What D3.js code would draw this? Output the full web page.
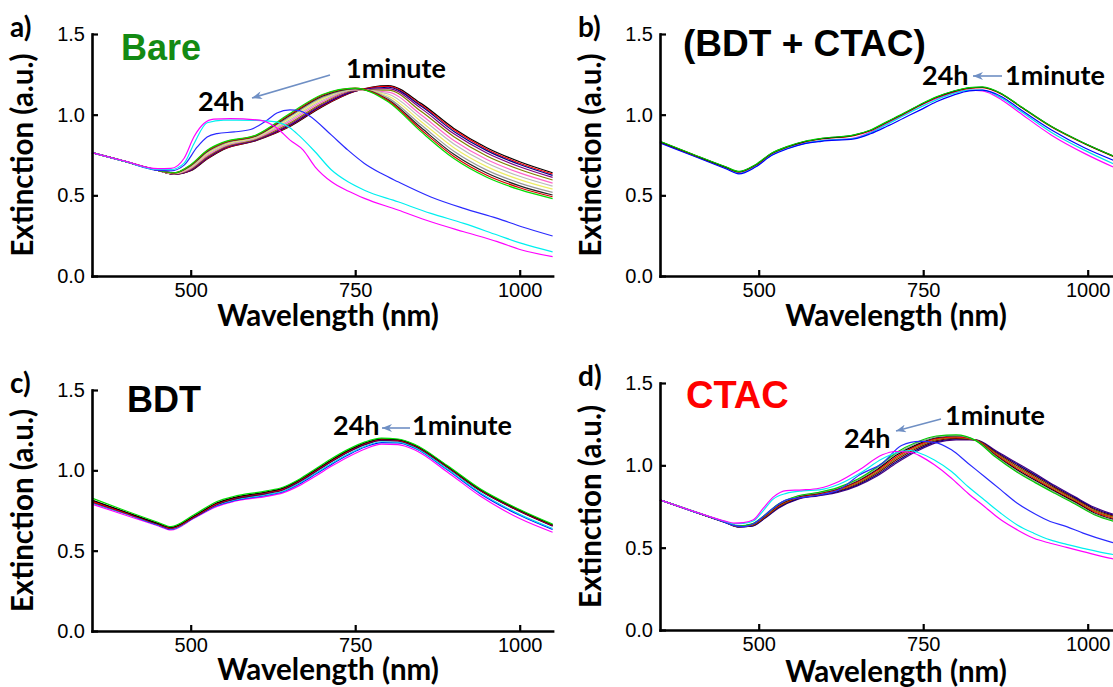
<!DOCTYPE html>
<html><head><meta charset="utf-8">
<script src="https://cdn.jsdelivr.net/npm/d3@7"></script>
<style>
html,body{margin:0;padding:0;background:#fff;}
svg{display:block;}
</style></head>
<body>
<svg id="chart" width="1113" height="687"></svg>
<script>
// ---------------- shared ticks ----------------
const xTicks = [500, 750, 1000];
const yTicks = [0, 0.5, 1.0, 1.5];
const xDomain = [350, 1050];
const yDomain = [0, 1.5];

// ---------------- panel a : Bare ----------------
const wlBare = [350,400,450,475,500,525,550,600,650,700,750,800,850,900,950,1000,1050];
const bareBundle = [
  [0.765,0.71,0.655,0.630,0.652,0.725,0.785,0.840,0.925,1.050,1.145,1.180,1.070,0.915,0.795,0.708,0.640],
  [0.765,0.71,0.655,0.631,0.654,0.728,0.787,0.842,0.929,1.054,1.146,1.175,1.061,0.906,0.786,0.699,0.632],
  [0.765,0.71,0.655,0.631,0.656,0.731,0.790,0.844,0.933,1.058,1.147,1.170,1.053,0.896,0.777,0.691,0.624],
  [0.765,0.71,0.655,0.632,0.659,0.735,0.793,0.846,0.939,1.064,1.149,1.162,1.039,0.881,0.762,0.677,0.611],
  [0.765,0.71,0.655,0.633,0.663,0.740,0.798,0.850,0.947,1.071,1.151,1.152,1.021,0.863,0.744,0.660,0.595],
  [0.765,0.71,0.655,0.634,0.667,0.747,0.803,0.854,0.957,1.080,1.153,1.140,1.000,0.840,0.722,0.639,0.576],
  [0.765,0.71,0.655,0.635,0.672,0.754,0.808,0.858,0.967,1.089,1.155,1.128,0.979,0.818,0.700,0.618,0.557],
  [0.765,0.71,0.655,0.636,0.676,0.760,0.814,0.862,0.976,1.098,1.158,1.116,0.958,0.795,0.678,0.597,0.538],
  [0.765,0.71,0.655,0.638,0.681,0.767,0.819,0.867,0.986,1.107,1.160,1.104,0.937,0.773,0.656,0.576,0.518],
  [0.765,0.71,0.655,0.639,0.685,0.772,0.824,0.870,0.994,1.115,1.162,1.094,0.920,0.754,0.638,0.559,0.502],
  [0.765,0.71,0.655,0.639,0.687,0.776,0.827,0.872,0.999,1.120,1.164,1.087,0.907,0.741,0.625,0.547,0.491],
  [0.765,0.71,0.655,0.640,0.690,0.780,0.830,0.875,1.005,1.125,1.165,1.080,0.895,0.728,0.612,0.535,0.480]
];
const bareBlueWl = [350,400,450,470,490,510,525,540,566,591,616,631,651,665,679,714,739,764,790,815,865,915,966,1003,1050];
const bareBlue   = [0.765,0.71,0.655,0.652,0.687,0.80,0.862,0.883,0.893,0.908,0.966,1.01,1.03,1.025,0.997,0.873,0.78,0.698,0.635,0.584,0.49,0.419,0.357,0.305,0.248];
const bareCyanWl = [350,400,450,470,490,505,525,550,600,630,650,664,689,714,739,764,815,865,915,966,1003,1050];
const bareCyan   = [0.765,0.71,0.66,0.66,0.70,0.82,0.95,0.966,0.965,0.955,0.92,0.873,0.77,0.657,0.584,0.532,0.46,0.388,0.326,0.254,0.202,0.15];
const bareMagentaWl = [350,400,450,470,490,505,520,535,560,605,630,651,671,689,714,740,764,815,865,915,966,1003,1050];
const bareMagenta   = [0.765,0.712,0.665,0.667,0.73,0.863,0.945,0.972,0.975,0.966,0.92,0.842,0.78,0.677,0.584,0.525,0.481,0.409,0.336,0.274,0.213,0.161,0.12];

// ---------------- panel b : BDT + CTAC ----------------
const wlMix = [350,400,450,470,495,520,545,570,595,645,670,695,720,745,770,795,820,840,870,895,945,995,1050];
const mixGreen   = [0.835,0.755,0.677,0.648,0.690,0.763,0.805,0.835,0.853,0.875,0.905,0.957,1.008,1.062,1.110,1.145,1.168,1.172,1.128,1.060,0.927,0.823,0.725];
const mixBlack   = [0.833,0.753,0.675,0.646,0.688,0.761,0.803,0.833,0.851,0.873,0.903,0.955,1.006,1.060,1.108,1.143,1.166,1.170,1.127,1.059,0.926,0.822,0.724];
const mixRed     = [0.832,0.752,0.674,0.645,0.686,0.759,0.801,0.831,0.849,0.870,0.900,0.952,1.003,1.057,1.105,1.140,1.163,1.168,1.125,1.057,0.924,0.820,0.722];
const mixBlue    = [0.825,0.745,0.665,0.633,0.675,0.748,0.790,0.820,0.835,0.850,0.882,0.928,0.978,1.028,1.080,1.120,1.148,1.152,1.110,1.040,0.905,0.795,0.700];
const mixCyan    = [0.828,0.748,0.668,0.636,0.678,0.750,0.793,0.822,0.838,0.853,0.888,0.940,0.993,1.045,1.092,1.130,1.152,1.152,1.100,1.030,0.890,0.780,0.675];
const mixMagenta = [0.830,0.750,0.670,0.637,0.680,0.752,0.795,0.822,0.838,0.855,0.892,0.945,1.000,1.055,1.100,1.135,1.152,1.148,1.090,1.017,0.873,0.760,0.655];

// ---------------- panel c : BDT ----------------
const wlBdt = [350,400,450,470,505,540,565,615,640,665,690,715,740,765,790,815,840,890,940,1000,1050];
const bdtGreen   = [0.827,0.750,0.677,0.650,0.723,0.806,0.837,0.872,0.895,0.945,1.010,1.075,1.132,1.177,1.200,1.195,1.162,1.030,0.885,0.756,0.665];
const bdtBlack   = [0.815,0.742,0.670,0.645,0.716,0.798,0.830,0.866,0.889,0.940,1.004,1.068,1.126,1.171,1.196,1.191,1.158,1.026,0.881,0.752,0.661];
const bdtRed     = [0.808,0.738,0.668,0.642,0.712,0.793,0.826,0.862,0.885,0.935,0.999,1.063,1.121,1.167,1.192,1.188,1.155,1.023,0.878,0.749,0.658];
const bdtNavy    = [0.812,0.740,0.668,0.641,0.710,0.791,0.823,0.859,0.882,0.932,0.996,1.060,1.118,1.164,1.190,1.186,1.153,1.021,0.876,0.747,0.656];
const bdtWine    = [0.805,0.736,0.666,0.640,0.709,0.789,0.821,0.857,0.880,0.930,0.994,1.058,1.116,1.162,1.188,1.185,1.152,1.020,0.875,0.746,0.655];
const bdtPurple  = [0.803,0.735,0.665,0.639,0.708,0.787,0.819,0.855,0.878,0.928,0.992,1.056,1.114,1.160,1.186,1.183,1.150,1.018,0.873,0.744,0.653];
const bdtCyan    = [0.800,0.733,0.662,0.636,0.707,0.784,0.814,0.848,0.870,0.920,0.982,1.045,1.103,1.150,1.178,1.176,1.143,1.008,0.860,0.726,0.638];
const bdtBlue    = [0.798,0.731,0.660,0.634,0.705,0.781,0.811,0.845,0.867,0.915,0.977,1.040,1.097,1.145,1.172,1.171,1.139,1.003,0.855,0.720,0.632];
const bdtMagenta = [0.790,0.722,0.655,0.629,0.702,0.776,0.806,0.838,0.860,0.905,0.965,1.028,1.085,1.133,1.163,1.160,1.128,0.990,0.840,0.700,0.615];

// ---------------- panel d : CTAC ----------------
const wlCtac = [350,400,450,470,490,510,530,560,590,620,650,680,710,740,770,800,830,860,890,920,950,980,1010,1050];
const ctacBundle = [
  [0.79,0.720,0.652,0.625,0.630,0.680,0.740,0.795,0.815,0.835,0.875,0.935,1.015,1.085,1.138,1.155,1.155,1.090,1.020,0.950,0.877,0.810,0.745,0.690],
  [0.79,0.720,0.652,0.626,0.632,0.683,0.744,0.798,0.818,0.840,0.881,0.943,1.025,1.093,1.144,1.160,1.154,1.084,1.012,0.942,0.870,0.804,0.738,0.684],
  [0.79,0.721,0.653,0.627,0.635,0.686,0.748,0.801,0.821,0.844,0.887,0.952,1.035,1.102,1.150,1.164,1.154,1.078,1.004,0.934,0.863,0.797,0.732,0.678],
  [0.79,0.721,0.653,0.628,0.637,0.689,0.751,0.804,0.824,0.849,0.893,0.960,1.044,1.110,1.156,1.169,1.153,1.072,0.995,0.925,0.856,0.791,0.725,0.672],
  [0.79,0.721,0.654,0.629,0.639,0.692,0.755,0.807,0.827,0.853,0.899,0.968,1.054,1.118,1.162,1.173,1.152,1.066,0.987,0.917,0.849,0.784,0.718,0.666],
  [0.79,0.722,0.654,0.630,0.641,0.695,0.759,0.810,0.830,0.858,0.905,0.976,1.064,1.126,1.168,1.178,1.151,1.060,0.979,0.909,0.842,0.778,0.711,0.660],
  [0.79,0.722,0.655,0.631,0.643,0.698,0.762,0.813,0.833,0.861,0.910,0.983,1.072,1.133,1.173,1.181,1.151,1.055,0.972,0.902,0.836,0.772,0.705,0.655],
  [0.79,0.722,0.655,0.632,0.645,0.700,0.765,0.815,0.835,0.865,0.915,0.990,1.080,1.140,1.178,1.185,1.150,1.050,0.965,0.895,0.830,0.767,0.700,0.650]
];
const ctacBlueWl = [350,400,450,462,477,492,522,542,567,592,622,653,688,717,745,767,793,818,843,868,893,918,943,968,993,1033,1050];
const ctacBlue   = [0.79,0.72,0.652,0.635,0.628,0.645,0.74,0.79,0.805,0.82,0.851,0.942,1.013,1.12,1.145,1.14,1.094,1.013,0.932,0.851,0.77,0.709,0.659,0.628,0.588,0.537,0.52];
const ctacCyanWl = [350,400,450,462,477,492,507,522,542,567,592,622,653,688,710,730,742,767,793,818,843,868,893,918,943,968,993,1033,1050];
const ctacCyan   = [0.79,0.722,0.658,0.645,0.648,0.662,0.725,0.795,0.83,0.845,0.851,0.885,0.95,1.04,1.078,1.09,1.078,1.033,0.963,0.871,0.79,0.709,0.638,0.588,0.547,0.52,0.496,0.462,0.452];
const ctacMagentaWl = [350,400,450,462,477,492,507,522,542,567,592,622,653,688,707,732,747,767,793,818,843,868,893,918,943,968,993,1033,1050];
const ctacMagenta   = [0.79,0.722,0.66,0.649,0.652,0.669,0.74,0.807,0.847,0.851,0.861,0.902,0.973,1.064,1.084,1.078,1.053,1.003,0.922,0.83,0.75,0.669,0.608,0.557,0.527,0.502,0.476,0.436,0.425];

// ---------------- styles (kept apart from data) ----------------
const bareBundleColors = ['#000000','#ff0000','#000080','#800080','#808000','#ff66cc','#bbbbbb','#eeee66','#999999','#222222','#dd0000','#00dd00'];
const ctacBundleColors = ['#4b0082','#000080','#800000','#808000','#ff0000','#000000','#999999','#00cc00'];
const arrowColor = '#6f8fc4';
const PXNM = 0.658;

const svg = d3.select('#chart');
svg.append('defs').append('marker')
  .attr('id','ah').attr('viewBox','0 0 10 8').attr('refX',10).attr('refY',4)
  .attr('markerWidth',11).attr('markerHeight',8).attr('markerUnits','userSpaceOnUse')
  .attr('orient','auto')
  .append('path').attr('d','M10,4 L0,0 L3,4 L0,8 Z').attr('fill',arrowColor);

const panels = [
  { x0: 92,  yB: 276, yT: 34, xTitleY: 326,
    letter: 'a)', title: 'Bare', titleColor: '#138a13', titleX: 121, titleY: 60, titleSize: 36,
    series: [
      ...bareBundle.map((v,i)=>({wl: wlBare, v, color: bareBundleColors[i]})),
      {wl: bareBlueWl, v: bareBlue, color: '#2a2aff'},
      {wl: bareCyanWl, v: bareCyan, color: '#00f0f0'},
      {wl: bareMagentaWl, v: bareMagenta, color: '#ff00ff'}
    ],
    t1: {x:346, y:78}, t24: {x:198, y:111}, arrow: [330,75,252,98] },
  { x0: 660, yB: 276, yT: 34, xTitleY: 326,
    letter: 'b)', title: '(BDT + CTAC)', titleColor: '#000', titleX: 683, titleY: 56, titleSize: 37,
    series: [
      {wl: wlMix, v: mixMagenta, color:'#ff00ff'},
      {wl: wlMix, v: mixCyan, color:'#00e5e5'},
      {wl: wlMix, v: mixBlue, color:'#0000ff'},
      {wl: wlMix, v: mixRed, color:'#ff0000'},
      {wl: wlMix, v: mixBlack, color:'#000000'},
      {wl: wlMix, v: mixGreen, color:'#00cc00'}
    ],
    t1: {x:1005, y:85}, t24: {x:922, y:85}, arrow: [1002,76,973,76] },
  { x0: 92,  yB: 631, yT: 390, xTitleY: 680,
    letter: 'c)', title: 'BDT', titleColor: '#000', titleX: 127, titleY: 412, titleSize: 36,
    series: [
      {wl: wlBdt, v: bdtMagenta, color:'#ff00ff'},
      {wl: wlBdt, v: bdtBlue, color:'#0000ff'},
      {wl: wlBdt, v: bdtCyan, color:'#00e5e5'},
      {wl: wlBdt, v: bdtPurple, color:'#800080'},
      {wl: wlBdt, v: bdtWine, color:'#800000'},
      {wl: wlBdt, v: bdtNavy, color:'#000080'},
      {wl: wlBdt, v: bdtRed, color:'#ff0000'},
      {wl: wlBdt, v: bdtBlack, color:'#000000'},
      {wl: wlBdt, v: bdtGreen, color:'#00dd00'}
    ],
    t1: {x:412, y:435}, t24: {x:333, y:435}, arrow: [410,428,382,428] },
  { x0: 660, yB: 630, yT: 383, xTitleY: 682,
    letter: 'd)', title: 'CTAC', titleColor: '#ff0000', titleX: 686, titleY: 408, titleSize: 38,
    series: [
      ...ctacBundle.map((v,i)=>({wl: wlCtac, v, color: ctacBundleColors[i]})),
      {wl: ctacBlueWl, v: ctacBlue, color:'#2a2aff'},
      {wl: ctacCyanWl, v: ctacCyan, color:'#00f0f0'},
      {wl: ctacMagentaWl, v: ctacMagenta, color:'#ff00ff'}
    ],
    t1: {x:945, y:425}, t24: {x:844, y:448}, arrow: [941,419,896,431] }
];

const boldCal = "Lato, 'Open Sans', sans-serif";
const arial = "'Liberation Sans', Arial, sans-serif";

panels.forEach(p => {
  const g = svg.append('g');
  const x = d3.scaleLinear().domain(xDomain).range([p.x0, p.x0 + (xDomain[1]-xDomain[0])*PXNM]);
  const y = d3.scaleLinear().domain(yDomain).range([p.yB, p.yT]);
  const line = d3.line().x(d=>x(d[0])).y(d=>y(d[1])).curve(d3.curveMonotoneX);

  p.series.forEach(s => {
    g.append('path').attr('d', line(d3.zip(s.wl, s.v)))
      .attr('fill','none').attr('stroke', s.color).attr('stroke-width', 1.2);
  });

  const ya = g.append('g').attr('transform', `translate(${p.x0},0)`)
    .call(d3.axisLeft(y).tickValues(yTicks).tickFormat(d3.format('.1f')).tickSize(-6).tickSizeOuter(0).tickPadding(7));
  const xa = g.append('g').attr('transform', `translate(0,${p.yB})`)
    .call(d3.axisBottom(x).tickValues(xTicks).tickFormat(d3.format('d')).tickSize(-6).tickSizeOuter(0).tickPadding(7));
  [ya, xa].forEach(a => {
    a.select('.domain').attr('stroke','#000').attr('stroke-width',2.6).attr('stroke-linecap','square');
    a.selectAll('.tick line').attr('stroke','#000').attr('stroke-width',2.2);
    a.selectAll('.tick text').attr('fill','#000').style('font-family', arial).style('font-size','20px');
  });

  // axis titles
  g.append('text').attr('transform', `translate(${p.x0-59},${(p.yB+p.yT)/2}) rotate(-90)`)
    .attr('text-anchor','middle').style('font-family', boldCal).style('font-weight',700).style('font-size','29.5px')
    .text('Extinction (a.u.)');
  g.append('text').attr('x', p.x0 + 236).attr('y', p.xTitleY)
    .attr('text-anchor','middle').style('font-family', boldCal).style('font-weight',700).style('font-size','29.5px')
    .text('Wavelength (nm)');

  // panel letter
  g.append('text').attr('x', p.x0 - 82).attr('y', p.yT + 3)
    .style('font-family', boldCal).style('font-weight',700).style('font-size','28px').text(p.letter);
  // title
  g.append('text').attr('x', p.titleX).attr('y', p.titleY).attr('fill', p.titleColor)
    .style('font-family', arial).style('font-weight',700).style('font-size', p.titleSize + 'px').text(p.title);
  // annotations
  g.append('text').attr('x', p.t1.x).attr('y', p.t1.y)
    .style('font-family', boldCal).style('font-weight',700).style('font-size','27px').text('1minute');
  g.append('text').attr('x', p.t24.x).attr('y', p.t24.y)
    .style('font-family', boldCal).style('font-weight',700).style('font-size','27px').text('24h');
  g.append('line').attr('x1',p.arrow[0]).attr('y1',p.arrow[1]).attr('x2',p.arrow[2]).attr('y2',p.arrow[3])
    .attr('stroke', arrowColor).attr('stroke-width',1.6).attr('marker-end','url(#ah)');
});
</script>
</body></html>
